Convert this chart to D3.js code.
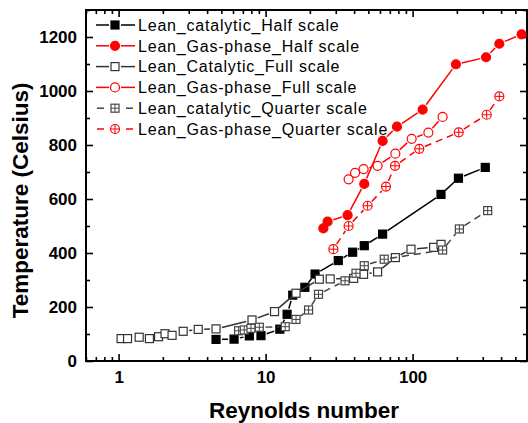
<!DOCTYPE html>
<html>
<head>
<meta charset="utf-8">
<script src="https://cdn.jsdelivr.net/npm/d3@7"></script>
<style>
  body { margin: 0; background: #fff; }
  svg { display: block; font-family: "Liberation Sans", Arial, sans-serif; }
</style>
</head>
<body>
<svg width="528" height="423"></svg>
<script>
/* data: Reynolds number vs temperature */
var catHalfRe   = [4.6, 6.1, 7.75, 9.3, 12.5, 14.0, 15.3, 18.5, 21.7, 31.2, 39.1, 46.9, 62.5, 156, 205, 312];
var catHalfT    = [80, 81, 93, 94, 118, 173, 244, 273, 322, 372, 403, 427, 470, 617, 677, 717];
var gasHalfRe   = [24.7, 26.4, 36.1, 46.9, 62.5, 78.3, 117, 197, 316, 389, 551];
var gasHalfT    = [491, 516, 540, 656, 815, 868, 931, 1099, 1125, 1175, 1210];
var catFullRe   = [1.04, 1.15, 1.38, 1.62, 1.87, 2.07, 2.31, 2.75, 3.48, 4.6, 8.08, 11.5, 16.1, 23.2, 27.5, 39.7, 46.4, 57.8, 76.3, 97.5, 139, 156];
var catFullT    = [83, 83, 88, 83, 90, 101, 95, 110, 117, 119, 152, 183, 251, 303, 304, 306, 321, 330, 383, 414, 421, 432];
var gasFullRe   = [36.7, 40.6, 46.4, 57.8, 76.3, 98.5, 128, 160];
var gasFullT    = [673, 697, 711, 723, 768, 823, 846, 904];
var catQuartRe  = [6.55, 7.16, 7.95, 9.06, 13.6, 16.1, 19.6, 22.9, 34.7, 41.2, 46.9, 64.1, 160, 208, 324];
var catQuartT   = [112, 115, 121, 125, 127, 154, 189, 247, 297, 325, 353, 377, 411, 489, 557];
var gasQuartRe  = [28.9, 36.7, 49.4, 65.9, 75.9, 111, 206, 319, 389];
var gasQuartT   = [414, 500, 575, 646, 723, 786, 847, 912, 980];

var seriesNames = ["Lean_catalytic_Half scale", "Lean_Gas-phase_Half scale", "Lean_Catalytic_Full scale",
                   "Lean_Gas-phase_Full scale", "Lean_catalytic_Quarter scale", "Lean_Gas-phase_Quarter scale"];
var xTicks = [1, 10, 100];
var yTicks = [0, 200, 400, 600, 800, 1000, 1200];

var series = [
  {name: seriesNames[0], re: catHalfRe,  t: catHalfT,  color: "#000", shape: "square", fill: true,  dash: null},
  {name: seriesNames[1], re: gasHalfRe,  t: gasHalfT,  color: "#f00", shape: "circle", fill: true,  dash: null},
  {name: seriesNames[2], re: catFullRe,  t: catFullT,  color: "#333", shape: "square", fill: false, dash: null},
  {name: seriesNames[3], re: gasFullRe,  t: gasFullT,  color: "#f00", shape: "circle", fill: false, dash: null},
  {name: seriesNames[4], re: catQuartRe, t: catQuartT, color: "#444", shape: "square", fill: false, cross: true, dash: "7,5"},
  {name: seriesNames[5], re: gasQuartRe, t: gasQuartT, color: "#f00", shape: "circle", fill: false, cross: true, dash: "7,5"}
];

var svg = d3.select("svg");
var margin = {top: 10, right: 1, bottom: 62, left: 86};
var width = +svg.attr("width") - margin.left - margin.right;
var height = +svg.attr("height") - margin.top - margin.bottom;
var group = svg.append("g").attr("transform", "translate(" + margin.left + "," + margin.top + ")");

var x = d3.scaleLog().domain([0.6, 600]).range([0, width]);
var y = d3.scaleLinear().domain([0, 1300]).range([height, 0]);

/* minor ticks */
var xMinor = [];
[0.1, 1, 10, 100].forEach(function(p) {
  for (var k = 2; k <= 9; k++) {
    var v = p * k;
    if (v >= 0.6 && v <= 600 && xTicks.indexOf(v) < 0) xMinor.push(v);
  }
});
var yMinor = [100, 300, 500, 700, 900, 1100, 1300];

function styleAxis(g) {
  g.select(".domain").remove();
  g.selectAll("line").attr("stroke", "#000").attr("stroke-width", 1.6);
  g.selectAll("text").attr("font-size", "17px").attr("font-weight", "bold").attr("fill", "#000");
}

/* bottom & top */
group.append("g").attr("transform", "translate(0," + height + ")")
  .call(d3.axisBottom(x).tickValues(xTicks).tickFormat(d3.format("d")).tickSizeInner(-7).tickSizeOuter(0).tickPadding(10))
  .call(styleAxis);
group.append("g").attr("transform", "translate(0," + height + ")")
  .call(d3.axisBottom(x).tickValues(xMinor).tickFormat("").tickSizeInner(-4).tickSizeOuter(0))
  .call(styleAxis);
group.append("g")
  .call(d3.axisTop(x).tickValues(xTicks).tickFormat("").tickSizeInner(-7).tickSizeOuter(0))
  .call(styleAxis);
group.append("g")
  .call(d3.axisTop(x).tickValues(xMinor).tickFormat("").tickSizeInner(-4).tickSizeOuter(0))
  .call(styleAxis);

/* left & right */
group.append("g")
  .call(d3.axisLeft(y).tickValues(yTicks).tickFormat(d3.format("d")).tickSizeInner(-7).tickSizeOuter(0).tickPadding(9))
  .call(styleAxis);
group.append("g")
  .call(d3.axisLeft(y).tickValues(yMinor).tickFormat("").tickSizeInner(-4).tickSizeOuter(0))
  .call(styleAxis);
group.append("g").attr("transform", "translate(" + width + ",0)")
  .call(d3.axisRight(y).tickValues(yTicks).tickFormat("").tickSizeInner(-7).tickSizeOuter(0))
  .call(styleAxis);
group.append("g").attr("transform", "translate(" + width + ",0)")
  .call(d3.axisRight(y).tickValues(yMinor).tickFormat("").tickSizeInner(-4).tickSizeOuter(0))
  .call(styleAxis);

group.append("rect")
  .attr("width", width).attr("height", height)
  .attr("fill", "none").attr("stroke", "#000").attr("stroke-width", 2);

/* axis titles */
svg.append("text")
  .attr("x", 304).attr("y", 418)
  .attr("text-anchor", "middle")
  .attr("font-size", "22.5px").attr("font-weight", "bold")
  .text("Reynolds number");
svg.append("text")
  .attr("transform", "translate(28," + (margin.top + y(595)) + ") rotate(-90)")
  .attr("text-anchor", "middle")
  .attr("font-size", "22.5px").attr("font-weight", "bold")
  .text("Temperature (Celsius)");

/* a marker at cx, cy */
function drawMarker(g, s, cx, cy) {
  if (s.shape == "square") {
    g.append("rect")
      .attr("x", cx - 4).attr("y", cy - 4).attr("width", 8).attr("height", 8)
      .attr("fill", s.fill ? s.color : "#fff")
      .attr("stroke", s.color).attr("stroke-width", 1.2);
  } else {
    g.append("circle")
      .attr("cx", cx).attr("cy", cy).attr("r", 4.5)
      .attr("fill", s.fill ? s.color : "#fff")
      .attr("stroke", s.color).attr("stroke-width", 1.2);
  }
  if (s.cross) {
    g.append("path")
      .attr("d", "M" + (cx - 4) + "," + cy + "H" + (cx + 4) + "M" + cx + "," + (cy - 4) + "V" + (cy + 4))
      .attr("stroke", s.color).attr("stroke-width", 1);
  }
}

/* lines with a gap round each symbol, like Origin draws them */
var gap = 6;
series.forEach(function(s) {
  var g = group.append("g");
  var pts = s.re.map(function(r, i) { return [x(r), y(s.t[i])]; });
  for (var i = 0; i < pts.length - 1; i++) {
    var a = pts[i], b = pts[i + 1];
    var dx = b[0] - a[0], dy = b[1] - a[1];
    var len = Math.sqrt(dx * dx + dy * dy);
    if (len <= 2 * gap) continue;
    var ux = dx / len, uy = dy / len;
    g.append("line")
      .attr("x1", a[0] + ux * gap).attr("y1", a[1] + uy * gap)
      .attr("x2", b[0] - ux * gap).attr("y2", b[1] - uy * gap)
      .attr("stroke", s.color).attr("stroke-width", 1.5)
      .attr("stroke-dasharray", s.dash);
  }
  pts.forEach(function(p) { drawMarker(g, s, p[0], p[1]); });
});

/* legend */
var legend = svg.append("g");
series.forEach(function(s, i) {
  var cy = 25 + i * 20.8;
  var row = legend.append("g");
  if (s.dash) {
    row.append("line").attr("x1", 97).attr("x2", 104).attr("y1", cy).attr("y2", cy)
      .attr("stroke", s.color).attr("stroke-width", 1.5);
    row.append("line").attr("x1", 126).attr("x2", 133).attr("y1", cy).attr("y2", cy)
      .attr("stroke", s.color).attr("stroke-width", 1.5);
  } else {
    row.append("line").attr("x1", 96).attr("x2", 109).attr("y1", cy).attr("y2", cy)
      .attr("stroke", s.color).attr("stroke-width", 1.5);
    row.append("line").attr("x1", 121).attr("x2", 135).attr("y1", cy).attr("y2", cy)
      .attr("stroke", s.color).attr("stroke-width", 1.5);
  }
  drawMarker(row, s, 115, cy);
  row.append("text")
    .attr("x", 138).attr("y", cy).attr("dy", "0.36em")
    .attr("font-size", "16px").attr("letter-spacing", "0.8px")
    .text(s.name);
});
</script>
</body>
</html>
